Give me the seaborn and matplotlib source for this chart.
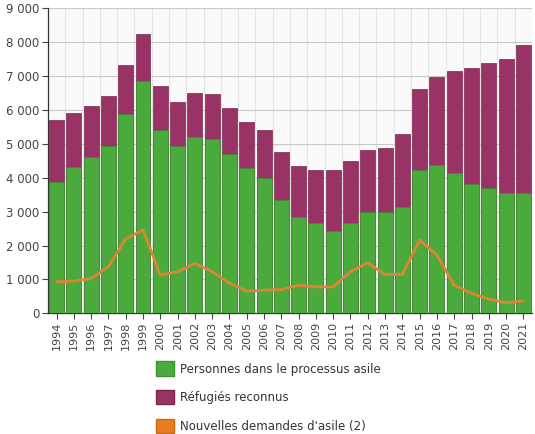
import numpy as np
import pandas as pd
import matplotlib
matplotlib.use("Agg")
import matplotlib.pyplot as plt
import matplotlib.patches as mpatches
import seaborn as sns
from matplotlib.ticker import FuncFormatter


years = list(range(1994, 2022))
processus = [3880, 4320, 4620, 4940, 5880, 6860, 5410, 4940, 5210, 5150,
             4700, 4290, 3980, 3340, 2840, 2660, 2440, 2660, 2990, 2990,
             3140, 4230, 4370, 4150, 3820, 3700, 3550, 3550]
refugies = [1820, 1580, 1490, 1470, 1440, 1380, 1290, 1290, 1280, 1310,
            1350, 1340, 1420, 1410, 1510, 1560, 1780, 1820, 1820, 1880,
            2150, 2380, 2590, 2990, 3410, 3680, 3940, 4360]
nouvelles = [930, 950, 1030, 1380, 2200, 2460, 1130, 1230, 1470, 1230,
             890, 660, 680, 700, 830, 780, 780, 1230, 1490, 1150,
             1150, 2160, 1720, 830, 590, 420, 310, 370]

labels = ["Personnes dans le processus asile", "Réfugiés reconnus",
          "Nouvelles demandes d'asile (2)"]

GREEN = "#4aab3c"
PURPLE = "#993366"
ORANGE = "#e87d1e"

df = pd.DataFrame({"annee": [str(y) for y in years],
                   "processus": processus,
                   "refugies": refugies,
                   "nouvelles": nouvelles})
df["total"] = df["processus"] + df["refugies"]

sns.set_style("white")
plt.rcParams["font.family"] = ["DejaVu Sans"]

fig = plt.figure(figsize=(5.35, 4.34), dpi=100)
ax = fig.add_axes([0.0897, 0.278, 0.9047, 0.703])
ax.set_facecolor("#fafafa")

# stacked bars: total in purple, green part drawn over it
sns.barplot(data=df, x="annee", y="total", color=PURPLE, width=0.86,
            saturation=1, edgecolor="#7a2450", linewidth=0.5, ax=ax, zorder=2)
sns.barplot(data=df, x="annee", y="processus", color=GREEN, width=0.86,
            saturation=1, edgecolor="#3d8f31", linewidth=0.5, ax=ax, zorder=3)
sns.lineplot(x=np.arange(len(years)), y=df["nouvelles"], color="#dc8535",
             linewidth=2, ax=ax, zorder=4)

ax.set_xlim(-0.5, len(years) - 0.5)
ax.set_ylim(0, 9000)
ax.set_yticks(range(0, 9001, 1000))
ax.yaxis.set_major_formatter(FuncFormatter(lambda v, p: f"{int(v):,}".replace(",", " ")))
ax.set_xlabel("")
ax.set_ylabel("")

# grid
for v in range(1000, 9001, 1000):
    ax.axhline(v, color="#c8c8c8", linewidth=0.8, zorder=1)
for i in range(len(years)):
    ax.axvline(i + 0.5, color="#e4e4e4", linewidth=0.8, zorder=0.5)

ax.tick_params(axis="x", rotation=90, labelsize=8, colors="#444444",
               length=4, width=0.8, direction="out", bottom=True, pad=2)
ax.tick_params(axis="y", labelsize=8.5, colors="#444444", length=4,
               width=0.8, direction="out", left=True, pad=2)
for lab in ax.get_xticklabels() + ax.get_yticklabels():
    lab.set_color("#444444")

for s in ["top", "right"]:
    ax.spines[s].set_visible(False)
ax.spines["left"].set_color("#333333")
ax.spines["bottom"].set_color("#333333")
ax.spines["left"].set_linewidth(0.9)
ax.spines["bottom"].set_linewidth(0.9)

handles = [mpatches.Patch(facecolor=GREEN, edgecolor="#3d8f31"),
           mpatches.Patch(facecolor=PURPLE, edgecolor="#7a2450"),
           mpatches.Patch(facecolor=ORANGE, edgecolor="#c96a15")]
fig.legend(handles, labels, loc="upper left", bbox_to_anchor=(0.283, 0.178),
           frameon=False, fontsize=8.5, handlelength=1.5, handleheight=1.5,
           handletextpad=0.5, labelspacing=1.2, borderaxespad=0,
           labelcolor="#333333")

fig.savefig("out.png", dpi=100, facecolor="white")
